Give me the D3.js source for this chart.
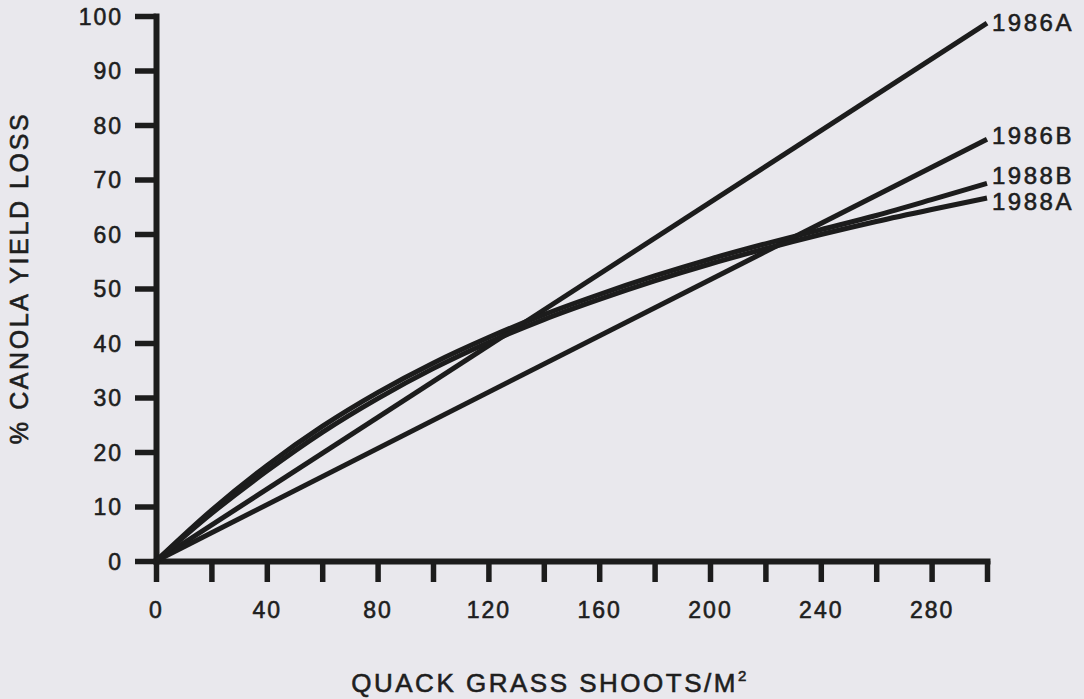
<!DOCTYPE html>
<html>
<head>
<meta charset="utf-8">
<script src="https://cdn.jsdelivr.net/npm/d3@7"></script>
<style>
  html, body { margin: 0; padding: 0; background: #e9e8ed; }
  svg { display: block; }
  text { font-family: "Liberation Sans", Arial, Helvetica, sans-serif; fill: #1e1e1e; stroke: #1e1e1e; stroke-width: 0.6px; }
</style>
</head>
<body>
<svg id="chart" width="1084" height="699"></svg>
<script>
// ---- data ----
const shoots = [0, 20, 40, 60, 80, 100, 120, 140, 160, 180, 200, 220, 240, 260, 280, 300];
const loss1988A = [0, 8.7, 16.5, 23.6, 29.8, 35.3, 40.1, 44.3, 48.0, 51.4, 54.5, 57.3, 59.9, 62.3, 64.5, 66.6];
const loss1988B = [0, 9.3, 17.5, 24.7, 30.9, 36.3, 41.0, 45.2, 48.9, 52.3, 55.4, 58.2, 60.8, 63.4, 66.3, 69.3];
const shoots1986 = [0, 300];
const loss1986A = [0, 98.7];
const loss1986B = [0, 77.4];
const seriesNames = ["1986A", "1986B", "1988B", "1988A"];
const xTicks = [0, 20, 40, 60, 80, 100, 120, 140, 160, 180, 200, 220, 240, 260, 280, 300];
const xTickLabels = [0, 40, 80, 120, 160, 200, 240, 280];
const yTicks = [0, 10, 20, 30, 40, 50, 60, 70, 80, 90, 100];
const xTitleMain = "QUACK GRASS SHOOTS/M";
const xTitleSup = "2";
const yTitle = "% CANOLA YIELD LOSS";

// ---- layout / style ----
const labelDy = { "1986A": -0.5, "1986B": -3.5, "1988B": -7.5, "1988A": 3.5 };
const ink = "#1c1c1c";

const svg = d3.select("#chart");
const x = d3.scaleLinear().domain([0, 300]).range([156, 987]);
const y = d3.scaleLinear().domain([0, 100]).range([561, 16]);

const series = [
  { name: "1986A", xs: shoots1986, ys: loss1986A },
  { name: "1986B", xs: shoots1986, ys: loss1986B },
  { name: "1988B", xs: shoots, ys: loss1988B },
  { name: "1988A", xs: shoots, ys: loss1988A }
];

// axes
const xAxis = d3.axisBottom(x).tickValues(xTicks).tickSize(21).tickSizeOuter(0).tickPadding(20)
  .tickFormat(d => xTickLabels.includes(d) ? d : "");
const yAxis = d3.axisLeft(y).tickValues(yTicks).tickSize(21).tickSizeOuter(0).tickPadding(12);

const gx = svg.append("g").attr("transform", `translate(0,${y(0)})`).call(xAxis);
const gy = svg.append("g").attr("transform", `translate(${x(0)},0)`).call(yAxis);

[gx, gy].forEach(g => {
  g.select(".domain").attr("stroke", ink).attr("stroke-width", 6).attr("stroke-linecap", "square");
  g.selectAll(".tick line").attr("stroke", ink).attr("stroke-width", 5.5);
  g.selectAll(".tick text").attr("font-size", 23).attr("fill", "#1e1e1e").attr("stroke", "#1e1e1e")
    .attr("font-family", '"Liberation Sans", Arial, sans-serif').style("letter-spacing", "2px");
});
gy.selectAll(".tick text").attr("dy", "0.36em");

// lines
const line = d3.line().x(d => x(d[0])).y(d => y(d[1])).curve(d3.curveMonotoneX);
series.forEach(s => {
  const pts = s.xs.map((v, i) => [v, s.ys[i]]);
  svg.append("path").datum(pts).attr("d", line)
    .attr("fill", "none").attr("stroke", ink).attr("stroke-width", 5)
    .attr("stroke-linecap", "butt").attr("stroke-linejoin", "round");
  const last = pts[pts.length - 1];
  svg.append("text")
    .attr("x", x(last[0]) + 5)
    .attr("y", y(last[1]) + labelDy[s.name])
    .attr("dy", "0.36em")
    .attr("font-size", 24)
    .style("letter-spacing", "2.5px")
    .text(s.name);
});

// titles
const xt = svg.append("text")
  .attr("x", 550).attr("y", 692)
  .attr("text-anchor", "middle")
  .attr("font-size", 26)
  .style("letter-spacing", "2.5px");
xt.append("tspan").text(xTitleMain);
xt.append("tspan").attr("dy", -11).attr("font-size", 15).text(xTitleSup);

svg.append("text")
  .attr("transform", "translate(28,278) rotate(-90)")
  .attr("text-anchor", "middle")
  .attr("font-size", 25)
  .style("letter-spacing", "2.6px")
  .text(yTitle);
</script>
</body>
</html>
